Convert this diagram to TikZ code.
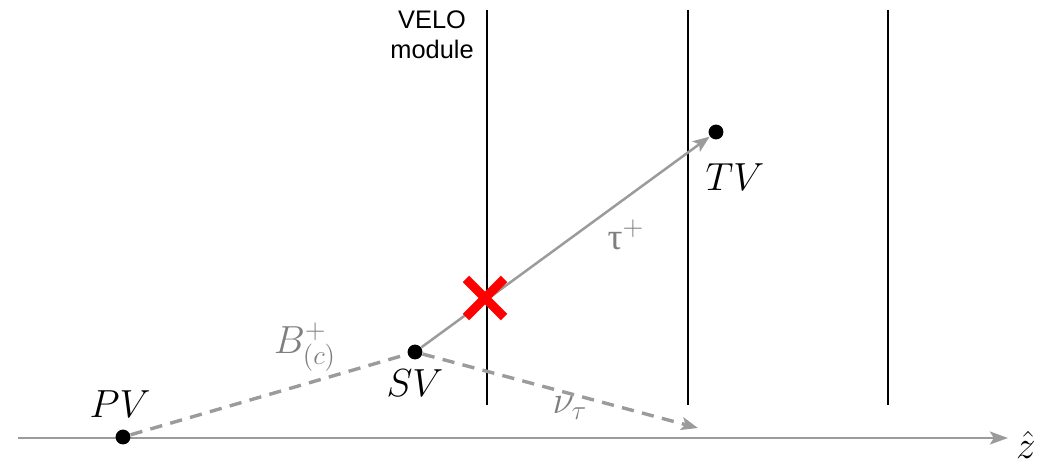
\documentclass[tikz,border=0pt]{standalone}
\usepackage{fontspec}
\setsansfont{Liberation Sans}
\newfontfamily\greekfont{Liberation Serif}
\usetikzlibrary{arrows.meta,positioning,shapes.misc}
\definecolor{trackgray}{HTML}{9B9B9B}
\definecolor{labelgray}{HTML}{7F7F7F}
\definecolor{crossred}{HTML}{FF0000}

\begin{document}
\begin{tikzpicture}[x=1.55cm, y=1.55cm,
    vtx/.style={circle, fill=black, inner sep=0pt, minimum size=0.23cm},
    track/.style={trackgray, line width=1.1pt},
    dashtrack/.style={trackgray, line width=1.5pt, dash pattern=on 1.9mm off 1.3mm},
    vlabel/.style={font=\fontsize{16.5}{18}\selectfont},
    plabel/.style={font=\fontsize{16.5}{18}\selectfont, text=labelgray}]
    \useasboundingbox (0, 0) rectangle (10.42, 4.63);

    % VELO modules
    \foreach \x in {4.87, 6.88, 8.88} {
        \draw[black, line width=0.9pt] (\x, 4.53) -- (\x, 0.58);
    }
    \node[font=\sffamily\fontsize{11.2}{13.2}\selectfont, align=center] (velo) at (4.32, 4.28) {VELO\\module};

    % z axis
    \coordinate (zstart) at (0.18, 0.25);
    \coordinate (zend) at (10.08, 0.25);
    \draw[track, -{Stealth[length=2.8mm, width=2mm, inset=0.6mm]}] (zstart) -- (zend);
    \node[vlabel, inner sep=0pt] (zhat) at (10.26, 0.18) {$\hat{z}$};

    % Vertices
    \node[vtx] (pv) at (1.23, 0.26) {};
    \node[vtx] (sv) at (4.15, 1.11) {};
    \node[vtx] (tv) at (7.16, 3.31) {};
    \node[vlabel] (pvlabel) at (1.20, 0.59) {$PV$};
    \node[vlabel] (svlabel) at (4.15, 0.80) {$SV$};
    \node[vlabel] (tvlabel) at (7.35, 2.86) {$TV$};

    % Tracks
    \draw[dashtrack] (pv) -- (sv);
    \draw[track, -{Stealth[length=2.6mm, width=2mm, inset=0.6mm]}] (sv) -- (tv);
    \coordinate (nuend) at (6.98, 0.35);
    \draw[dashtrack, -{Stealth[length=2.6mm, width=2mm, inset=0.6mm]}] (sv) -- (nuend);

    % Particle labels
    \node[plabel] (blabel) at (3.05, 1.16) {$B^+_{(c)}$};
    \node[plabel] (taulabel) at (6.26, 2.28) {{\greekfont τ}$^+$};
    \node[plabel] (nulabel) at (5.70, 0.55) {$\nu_\tau$};

    % Hit lost in module
    \node[cross out, draw=crossred, line width=4pt, minimum size=0.45cm] (miss) at (4.85, 1.65) {};
\end{tikzpicture}
\end{document}
